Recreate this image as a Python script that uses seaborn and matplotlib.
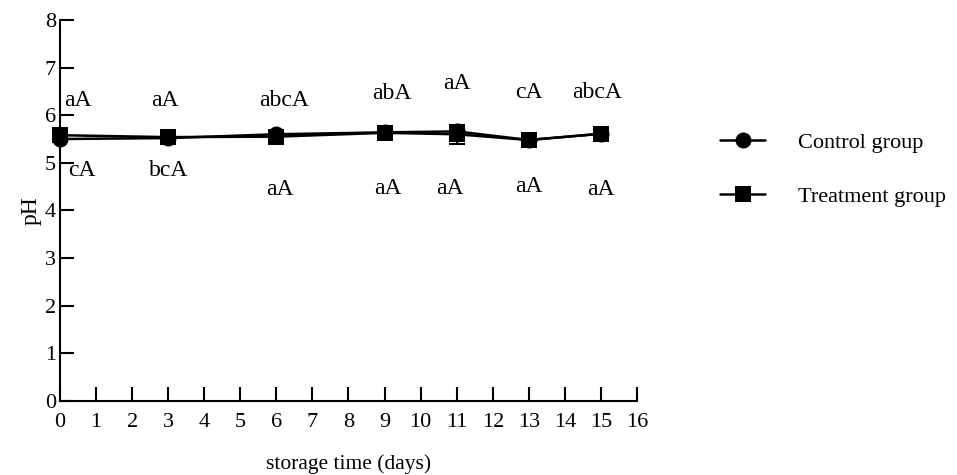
import matplotlib
matplotlib.use("Agg")
import matplotlib.pyplot as plt
import seaborn as sns
import pandas as pd

# Storage days and mean pH of each group
days = [0, 3, 6, 9, 11, 13, 15]
control_ph = [5.50, 5.52, 5.60, 5.64, 5.66, 5.48, 5.61]
treatment_ph = [5.58, 5.54, 5.55, 5.63, 5.60, 5.48, 5.61]
control_sd = [0.02, 0.02, 0.03, 0.02, 0.05, 0.02, 0.02]
treatment_sd = [0.02, 0.02, 0.02, 0.02, 0.20, 0.02, 0.02]

# Significance letters (upper row: control, lower row: treatment)
control_letters = ["aA", "aA", "abcA", "abA", "aA", "cA", "abcA"]
treatment_letters = ["cA", "bcA", "aA", "aA", "aA", "aA", "aA"]
upper_pos = [(0.5, 6.30), (2.9, 6.30), (6.2, 6.30), (9.2, 6.45), (11.0, 6.66), (13.0, 6.47), (14.9, 6.47)]
lower_pos = [(0.6, 4.83), (3.0, 4.83), (6.1, 4.43), (9.1, 4.47), (10.8, 4.47), (13.0, 4.51), (15.0, 4.43)]

groups = ["Control group", "Treatment group"]

df = pd.DataFrame({
    "day": days * 2,
    "pH": control_ph + treatment_ph,
    "sd": control_sd + treatment_sd,
    "group": [groups[0]] * len(days) + [groups[1]] * len(days),
})

sns.set_style("ticks")
plt.rcParams["font.family"] = ["Liberation Serif", "DejaVu Serif"]
plt.rcParams["text.color"] = "black"
plt.rcParams["axes.labelcolor"] = "black"

fig = plt.figure(figsize=(9.57, 4.75), dpi=100)
ax = fig.add_axes([0.0627, 0.1558, 0.6029, 0.8022])

for g in groups:
    sub = df[df["group"] == g]
    eb = ax.errorbar(sub["day"], sub["pH"], yerr=sub["sd"], fmt="none",
                     ecolor="black", elinewidth=1.5, capsize=6, capthick=1.5, zorder=2)
    for art in eb.get_children():
        art.set_clip_on(False)

sns.lineplot(data=df, x="day", y="pH", hue="group", style="group",
             markers={groups[0]: "o", groups[1]: "s"}, dashes=False,
             palette={groups[0]: "black", groups[1]: "black"},
             markersize=11.5, linewidth=1.8, markeredgewidth=0,
             ax=ax, zorder=3, clip_on=False)

for txt, (x, y) in zip(control_letters, upper_pos):
    ax.text(x, y, txt, ha="center", va="center", fontsize=17, color="black")
for txt, (x, y) in zip(treatment_letters, lower_pos):
    ax.text(x, y, txt, ha="center", va="center", fontsize=17, color="black")

ax.set_xlim(0, 16)
ax.set_ylim(0, 8)
ax.set_xticks(range(0, 17))
ax.set_yticks(range(0, 9))
ax.tick_params(direction="in", length=10, width=1.5, labelsize=16,
               colors="black", labelcolor="black")
ax.tick_params(axis="x", pad=9)
ax.tick_params(axis="y", pad=3)
for side in ["top", "right"]:
    ax.spines[side].set_visible(False)
for side in ["left", "bottom"]:
    ax.spines[side].set_linewidth(1.5)
    ax.spines[side].set_color("black")

ax.set_xlabel("storage time (days)", fontsize=15.5, labelpad=16)
ax.set_ylabel("pH", fontsize=17, labelpad=2)

leg = ax.legend(loc="center left", bbox_to_anchor=(1.11, 0.607), frameon=False,
                fontsize=16, handlelength=2.0, labelspacing=1.5, handletextpad=1.5)

fig.savefig("out.png", dpi=100)
